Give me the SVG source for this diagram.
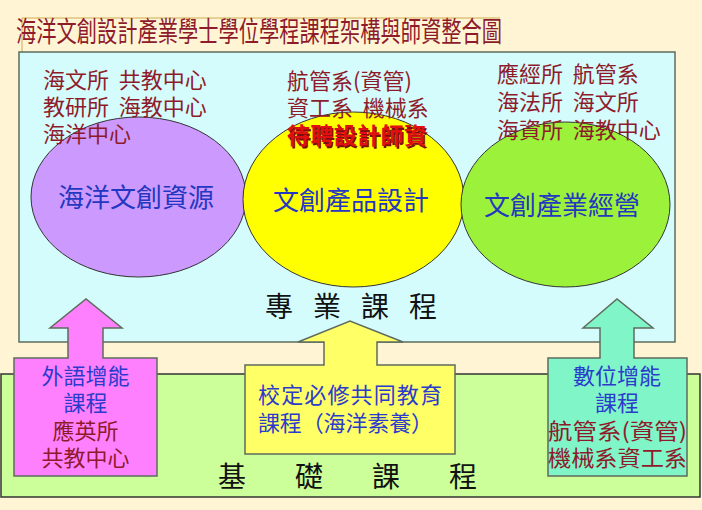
<svg xmlns="http://www.w3.org/2000/svg" width="702" height="510" viewBox="0 0 702 510">
<style>
text{font-family:"Noto Sans CJK TC","Noto Sans CJK SC",sans-serif}
.red{fill:#8E1B2B;font-size:22px}
.blue{fill:#2B3BCC;font-size:22px}
.big{fill:#2437C0;font-size:26px}
.blk{fill:#111;font-size:28px}
.shape{stroke:#5E6B5E;stroke-width:1.5}
.ell{stroke:#333;stroke-width:1}
</style>
<rect x="0" y="0" width="702" height="510" fill="#FFF5D5"/>
<g id="title">
<path d="M22 52 V18 H500" fill="none" stroke="#D0A850" stroke-width="1"/>
<text x="16" y="42" font-size="28" fill="#8E1B2B" textLength="486" lengthAdjust="spacingAndGlyphs">海洋文創設計產業學士學位學程課程架構與師資整合圖</text>
</g>
<g id="professional">
<rect x="19" y="52" width="656" height="290" fill="#D5FCFC" class="shape" stroke-width="2"/>
<text class="blk" x="265" y="317" letter-spacing="20">專業課程</text>
</g>
<g id="foundation">
<rect x="1" y="374" width="699" height="123" fill="#CCFF99" stroke="#333" stroke-width="1.5"/>
<text class="blk" x="218" y="487" font-size="29" letter-spacing="49">基礎課程</text>
</g>
<g id="resource">
<ellipse cx="138.5" cy="197" rx="107.5" ry="80" fill="#CC99FF" class="ell"/>
<text class="big" x="136" y="207" text-anchor="middle">海洋文創資源</text>
</g>
<g id="design">
<ellipse cx="353.5" cy="199.5" rx="110.5" ry="87.5" fill="#FFFF00" class="ell"/>
<text class="big" x="351" y="210" text-anchor="middle" fill="#1F3A93">文創產品設計</text>
</g>
<g id="business">
<ellipse cx="565.5" cy="204.5" rx="104.5" ry="82.5" fill="#9CF23A" class="ell"/>
<text class="big" x="562" y="215" text-anchor="middle">文創產業經營</text>
</g>
<g id="faculty-left">
<text class="red" x="43" y="88" xml:space="preserve">海文所  共教中心</text>
<text class="red" x="43" y="115" xml:space="preserve">教研所  海教中心</text>
<text class="red" x="43" y="142">海洋中心</text>
</g>
<g id="faculty-middle">
<text class="red" x="287" y="89">航管系(資管)</text>
<text class="red" x="287" y="116" xml:space="preserve">資工系  機械系</text>
<text x="288.5" y="145.5" font-size="23" font-weight="bold" fill="#7A0F0F" textLength="140">待聘設計師資</text>
<text x="287" y="144" font-size="23" font-weight="bold" fill="#E01010" textLength="140">待聘設計師資</text>
</g>
<g id="faculty-right">
<text class="red" x="497" y="82" xml:space="preserve">應經所  航管系</text>
<text class="red" x="497" y="110" xml:space="preserve">海法所  海文所</text>
<text class="red" x="497" y="138" xml:space="preserve">海資所  海教中心</text>
</g>
<g id="connectors">
<g id="language">
<path d="M14 358 H68 V328 H50 L86 299 L122 328 H103 V358 H157 V476 H14 Z" fill="#FF80FF" class="shape"/>
<text class="blue" x="85.5" y="384" text-anchor="middle">外語增能</text>
<text class="blue" x="85.5" y="411" text-anchor="middle">課程</text>
<text class="red" x="85.5" y="439" text-anchor="middle">應英所</text>
<text class="red" x="85.5" y="466" text-anchor="middle">共教中心</text>
</g>
<g id="general">
<path d="M245 365 H324 V342 H298 L350 321 L403 342 H377 V365 H455 V454 H245 Z" fill="#FFFF66" class="shape"/>
<text class="blue" x="258" y="403" textLength="184">校定必修共同教育</text>
<text class="blue" x="258" y="431" textLength="175">課程（海洋素養）</text>
</g>
<g id="digital">
<path d="M548 358 H600 V328 H583 L617 299 L653 328 H634 V358 H687 V476 H548 Z" fill="#80F5C8" class="shape"/>
<text class="blue" x="617" y="384" text-anchor="middle">數位增能</text>
<text class="blue" x="617" y="411" text-anchor="middle">課程</text>
<text class="red" x="548" y="439" textLength="139" lengthAdjust="spacingAndGlyphs">航管系(資管)</text>
<text class="red" x="548" y="466" textLength="139" lengthAdjust="spacingAndGlyphs">機械系資工系</text>
</g>
</g>
</svg>
